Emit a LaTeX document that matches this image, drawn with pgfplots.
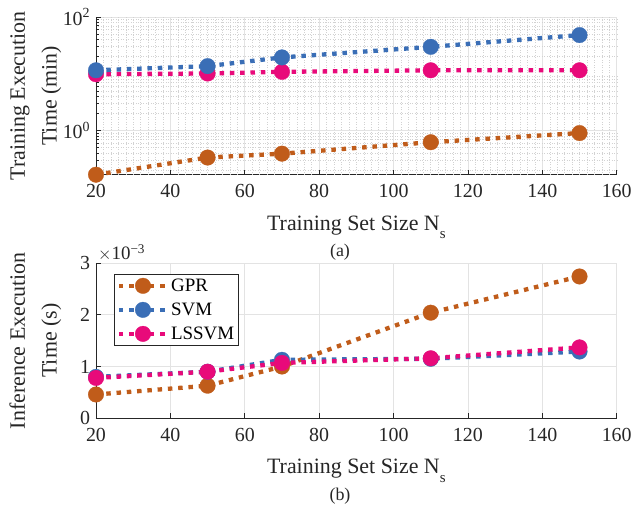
\documentclass[border=0pt]{standalone}
\usepackage{pgfplots}
\pgfplotsset{compat=1.18}
\usepackage{fontspec}
\setmainfont{Liberation Serif}
\definecolor{cgpr}{RGB}{192,92,26}
\definecolor{csvm}{RGB}{58,110,182}
\definecolor{cls}{RGB}{232,10,122}
\definecolor{axc}{RGB}{38,38,38}
\newcommand{\Ns}{N\raisebox{-8.5bp}{\fontsize{15}{15}\selectfont s}}
\begin{document}
\begin{tikzpicture}[font=\fontsize{20}{22}\selectfont]
\useasboundingbox (-96bp,174.7bp) rectangle (537bp,-330.3bp);
\pgfplotsset{
  every axis/.append style={
    scale only axis, width=520.7bp,
    xmin=20, xmax=160, xtick={20,40,...,160},
    /pgf/number format/assume math mode=true,
    axis x line*=bottom, axis y line*=left,
    axis line style={axc, line width=0.6pt},
    tick style={axc, line width=0.6pt},
    tick align=inside, major tick length=5bp, minor tick length=3bp,
    grid style={gray!22, line width=0.6pt},
    ticklabel style={font=\fontsize{20}{22}\selectfont, text=axc},
    xticklabel shift=6.3bp, yticklabel shift=2.3bp,
    label style={font=\fontsize{22}{24}\selectfont, text=axc},
    xlabel style={at={(rel axis cs:0.5,0)}, anchor=base, yshift=-55.3bp},
    ylabel style={at={(rel axis cs:0,0.5)}, anchor=center, yshift=60bp},
    clip=false,
    every axis plot/.append style={line width=4.3bp, dash pattern=on 4.5bp off 5.8bp, mark=*, mark size=7.8bp},
  },
}
\begin{axis}[
  name=ax1, height=157.7bp,
  ymode=log, log basis y=10, ymin=0.166, ymax=100,
  ytick={1,100}, yticklabels={10\textsuperscript{0},10\textsuperscript{2}},
  minor ytick={0.2,0.3,0.4,0.5,0.6,0.7,0.8,0.9,2,3,4,5,6,7,8,9,20,30,40,50,60,70,80,90},
  extra x ticks={22,24,26,28,30,32,34,36,38,42,44,46,48,50,52,54,56,58,62,64,66,68,70,72,74,76,78,82,84,86,88,90,92,94,96,98,102,104,106,108,110,112,114,116,118,122,124,126,128,130,132,134,136,138,142,144,146,148,150,152,154,156,158},
  extra x tick labels={},
  extra x tick style={major tick length=0pt, grid style={gray!35, line width=0.5pt, dotted}},
  grid=both, minor grid style={gray!35, line width=0.5pt, dotted},
  xlabel={Training Set Size \Ns},
  ylabel={\begin{tabular}{@{}c@{}}Training Execution\\[8bp]Time (min)\end{tabular}},
]
\addplot[color=cgpr, mark options={solid, fill=cgpr, draw=cgpr, line width=0.3pt}] coordinates {(20,0.166) (50,0.333) (70,0.39) (110,0.62) (150,0.90)};
\addplot[color=cls, mark options={solid, fill=cls, draw=cls, line width=0.3pt}] coordinates {(20,9.8) (50,10.1) (70,10.8) (110,11.5) (150,11.5)};
\addplot[color=csvm, mark options={solid, fill=csvm, draw=csvm, line width=0.3pt}] coordinates {(20,11.5) (50,13.6) (70,19.4) (110,29.8) (150,48)};
\node[anchor=base, font=\fontsize{18}{20}\selectfont, text=axc, yshift=-82bp] at (rel axis cs:0.4686,0) {(a)};
\end{axis}
\begin{axis}[
  name=ax2, at={(ax1.south west)}, anchor=north west, yshift=-88.3bp,
  height=155.3bp,
  ymin=0, ymax=0.003, ytick={0,0.001,0.002,0.003},
  scaled y ticks=base 10:3,
  ytick scale label code/.code={$\times$10\textsuperscript{−3}},
  every y tick scale label/.style={at={(rel axis cs:0,1)}, anchor=base west, xshift=2bp, yshift=3.7bp, inner sep=0pt, font=\fontsize{19}{22}\selectfont, text=axc},
  grid=major,
  xlabel={Training Set Size \Ns},
  ylabel={\begin{tabular}{@{}c@{}}Inference Execution\\[8bp]Time (s)\end{tabular}},
  legend style={at={(0.0346,0.929)}, anchor=north west, draw=axc, line width=0.6pt, font=\fontsize{19}{22}\selectfont, inner sep=2.5bp, row sep=6bp, cells={anchor=west}},
  legend image code/.code={\draw[#1, mark repeat=2, mark phase=2] plot coordinates {(0bp,0bp) (24bp,0bp) (48bp,0bp)};},
]
\addplot[color=cgpr, mark options={solid, fill=cgpr, draw=cgpr, line width=0.3pt}] coordinates {(20,0.00046) (50,0.00063) (70,0.00100) (110,0.00204) (150,0.00274)};
\addlegendentry{GPR}
\addplot[color=csvm, mark options={solid, fill=csvm, draw=csvm, line width=0.3pt}] coordinates {(20,0.00080) (50,0.00090) (70,0.00113) (110,0.00115) (150,0.00129)};
\addlegendentry{SVM}
\addplot[color=cls, mark options={solid, fill=cls, draw=cls, line width=0.3pt}] coordinates {(20,0.00078) (50,0.00090) (70,0.00107) (110,0.00116) (150,0.00137)};
\addlegendentry{LSSVM}
\node[anchor=base, font=\fontsize{18}{20}\selectfont, text=axc, yshift=-82bp] at (rel axis cs:0.4686,0) {(b)};
\end{axis}
\end{tikzpicture}
\end{document}
